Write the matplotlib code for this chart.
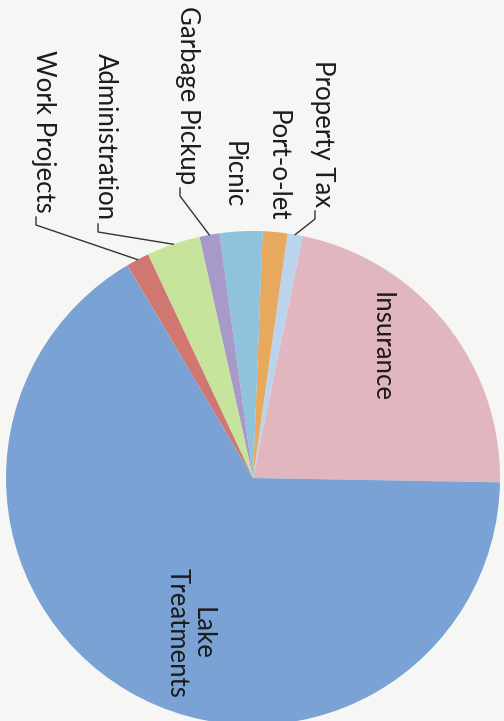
import numpy as np
import matplotlib
matplotlib.use('Agg')
from matplotlib import pyplot as plt

# budget share (%), in drawing order (counter-clockwise)
categories = ['Insurance', 'Property Tax', 'Port-o-let', 'Picnic',
              'Garbage Pickup', 'Administration', 'Work Projects', 'Lake\nTreatments']
shares = [22.0, 1.0, 1.6, 2.8, 1.3, 3.5, 1.5, 66.1]
colors = ['#e2b6bf', '#b9d4ec', '#e6a95e', '#8fc2dc',
          '#a89ac8', '#c7e49c', '#cf7770', '#7ba2d5']

plt.rcParams['font.family'] = ['Lato', 'DejaVu Sans']

fig = plt.figure(figsize=(5.04, 7.21), dpi=100, facecolor='#f6f6f4')
ax = fig.add_axes([0, 0, 1, 1])
ax.set_facecolor('#f6f6f4')

cx, cy, r = 253, 243, 247
wedges, _ = ax.pie(shares, colors=colors, startangle=-1, counterclock=True,
                   center=(cx, cy), radius=r, frame=True,
                   wedgeprops=dict(linewidth=0))

ax.set_xlim(0, 504)
ax.set_ylim(0, 721)
ax.set_aspect('equal')
ax.axis('off')

txt = dict(rotation=-90, color='#1c1c1c', fontsize=18.5)

# labels inside the big slices
ax.text(381, 721 - 347, 'Insurance', ha='center', va='center', **txt)
ax.text(190, 721 - 633, 'Lake\nTreatments', ha='center', va='center',
        multialignment='center', linespacing=1.0, **txt)

# outside labels: (category, x, y of text end) in pixels, leader or not
outside = [
    ('Property Tax', 322, 207, True),
    ('Port-o-let', 277, 221, False),
    ('Picnic', 233, 208, False),
    ('Garbage Pickup', 187, 184, True),
    ('Administration', 105, 220, True),
    ('Work Projects', 43, 213, True),
]
for name, tx, ty, leader in outside:
    ax.text(tx, 721 - ty, name, ha='center', va='bottom', **txt)
    if leader:
        w = wedges[categories.index(name)]
        mid = np.deg2rad((w.theta1 + w.theta2) / 2)
        ex, ey = cx + r * np.cos(mid), cy + r * np.sin(mid)
        hx = tx - 7
        ax.plot([hx, hx, ex], [721 - ty - 4, 721 - ty - 12, ey],
                color='#333333', lw=1)

plt.savefig('out.png', dpi=100, facecolor=fig.get_facecolor())
